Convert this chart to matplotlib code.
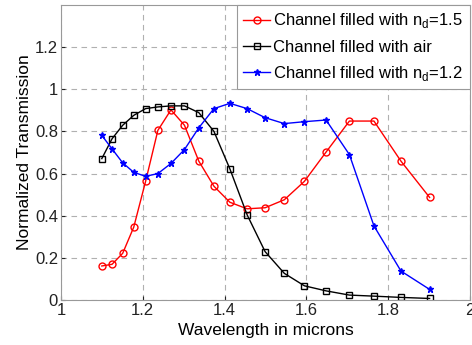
import matplotlib.pyplot as plt

plt.rcParams['font.family'] = ['Liberation Sans', 'DejaVu Sans']

# wavelengths (microns), same sampling for all three curves
wavelength = [1.100, 1.125, 1.151, 1.178, 1.207, 1.237, 1.269, 1.302, 1.337, 1.374,
              1.413, 1.455, 1.499, 1.546, 1.595, 1.648, 1.705, 1.765, 1.831, 1.901]

# transmission values
t_nd15 = [0.162, 0.170, 0.222, 0.346, 0.563, 0.805, 0.902, 0.829, 0.659, 0.540,
          0.464, 0.433, 0.438, 0.476, 0.563, 0.702, 0.849, 0.849, 0.659, 0.487]
t_air = [0.671, 0.765, 0.829, 0.876, 0.908, 0.916, 0.921, 0.921, 0.889, 0.800,
         0.622, 0.405, 0.230, 0.127, 0.068, 0.044, 0.024, 0.019, 0.013, 0.008]
t_nd12 = [0.781, 0.717, 0.651, 0.606, 0.587, 0.600, 0.648, 0.714, 0.817, 0.908,
          0.933, 0.908, 0.865, 0.837, 0.846, 0.854, 0.690, 0.352, 0.138, 0.051]

labels = ['Channel filled with n$_{\\mathregular{d}}$=1.5',
          'Channel filled with air',
          'Channel filled with n$_{\\mathregular{d}}$=1.2']

fig = plt.figure(figsize=(4.72, 3.45), dpi=100)
ax = fig.add_axes([0.129, 0.130, 0.867, 0.856])

ax.plot(wavelength, t_nd15, color='red', marker='o', markersize=5,
        markerfacecolor='none', linewidth=1.0, label=labels[0])
ax.plot(wavelength, t_air, color='black', marker='s', markersize=4.5,
        markerfacecolor='none', linewidth=1.0, label=labels[1])
ax.plot(wavelength, t_nd12, color='blue', marker='*', markersize=4.5,
        linewidth=1.0, label=labels[2])

ax.set_xlim(1, 2)
ax.set_ylim(0, 1.4)
ax.set_xticks([1, 1.2, 1.4, 1.6, 1.8, 2])
ax.set_xticklabels(['1', '1.2', '1.4', '1.6', '1.8', '2'])
ax.set_yticks([0, 0.2, 0.4, 0.6, 0.8, 1, 1.2])
ax.set_yticklabels(['0', '0.2', '0.4', '0.6', '0.8', '1', '1.2'])
ax.tick_params(direction='in', length=3, labelsize=12, colors='#222222', pad=2)
ax.grid(True, linestyle=(0, (5, 4)), color='#b0b0b0', linewidth=0.8)
for s in ax.spines.values():
    s.set_color('#999999')

ax.set_xlabel('Wavelength in microns', fontsize=12.5, labelpad=4)
ax.set_ylabel('Normalized Transmission', fontsize=12.5, labelpad=2)

leg = ax.legend(loc='upper right', borderaxespad=0, fontsize=12,
                handlelength=1.6, handletextpad=0.2, labelspacing=0.55,
                fancybox=False, framealpha=1, borderpad=0.4)
leg.get_frame().set_edgecolor('#999999')
leg.get_frame().set_linewidth(0.8)

fig.savefig('out.png', dpi=100)
